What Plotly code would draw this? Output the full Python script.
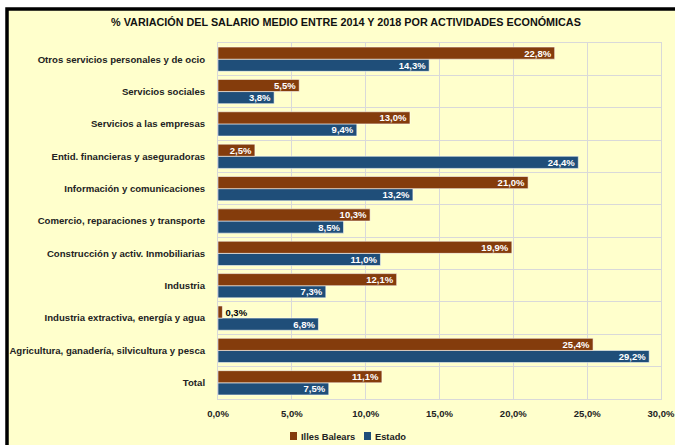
import plotly.graph_objects as go

categories = [
    "Total",
    "Agricultura, ganadería, silvicultura y pesca",
    "Industria extractiva, energía y agua",
    "Industria",
    "Construcción y activ. Inmobiliarias",
    "Comercio, reparaciones y transporte",
    "Información y comunicaciones",
    "Entid. financieras y aseguradoras",
    "Servicios a las empresas",
    "Servicios sociales",
    "Otros servicios personales y de ocio",
]
illes_balears = [11.1, 25.4, 0.3, 12.1, 19.9, 10.3, 21.0, 2.5, 13.0, 5.5, 22.8]
estado = [7.5, 29.2, 6.8, 7.3, 11.0, 8.5, 13.2, 24.4, 9.4, 3.8, 14.3]
x_ticks = [0, 5, 10, 15, 20, 25, 30]
x_tick_labels = ["0,0%", "5,0%", "10,0%", "15,0%", "20,0%", "25,0%", "30,0%"]
series_names = ["Illes Balears", "Estado"]

BROWN = "#843C0C"
BLUE = "#1F4E79"
FONT = "Liberation Sans, Arial, sans-serif"
TXT = "#222222"


def fmt(v):
    return f"{v:.1f}".replace(".", ",") + "%"


def positions(vals):
    return ["outside" if v < 1 else "inside" for v in vals]


fig = go.Figure()
fig.add_trace(go.Bar(
    y=categories, x=estado, orientation="h", name=series_names[1],
    marker=dict(color=BLUE, line=dict(color="rgba(255,255,255,0.7)", width=0.8)),
    text=[f"<b>{fmt(v)}</b>" for v in estado], textposition=positions(estado),
    insidetextanchor="end", constraintext="none", textangle=0,
    insidetextfont=dict(color="white", size=9.5, family=FONT),
    outsidetextfont=dict(color="black", size=9.5, family=FONT),
    showlegend=False,
))
fig.add_trace(go.Bar(
    y=categories, x=illes_balears, orientation="h", name=series_names[0],
    marker=dict(color=BROWN, line=dict(color="rgba(255,255,255,0.7)", width=0.8)),
    text=[f"<b>{fmt(v)}</b>" for v in illes_balears], textposition=positions(illes_balears),
    insidetextanchor="end", constraintext="none", textangle=0,
    insidetextfont=dict(color="white", size=9.5, family=FONT),
    outsidetextfont=dict(color="black", size=9.5, family=FONT),
    showlegend=False,
))

L, R, T, B = 218, 14, 43, 46
W, H = 675, 445
pw = W - L - R
ph = H - T - B


def px_x(p):
    return (p - L) / pw


def px_y(p):
    return (H - B - p) / ph


fig.update_layout(
    width=W, height=H,
    margin=dict(l=L, r=R, t=T, b=B, pad=0, autoexpand=False),
    paper_bgcolor="white",
    plot_bgcolor="rgba(0,0,0,0)",
    barmode="group", bargap=0.25, bargroupgap=0,
    font=dict(family=FONT, size=9.5, color=TXT),
    title=dict(
        text="<b>% VARIACIÓN DEL SALARIO MEDIO ENTRE 2014 Y 2018 POR ACTIVIDADES ECONÓMICAS</b>",
        x=346 / W, xref="container", xanchor="center",
        y=1 - 22 / H, yref="container", yanchor="middle",
        font=dict(family=FONT, size=10.8, color="#111111"),
    ),
    xaxis=dict(
        range=[0, 30], tickvals=x_ticks, ticktext=[f"<b>{t}</b>" for t in x_tick_labels],
        showgrid=True, gridcolor="#D9D9D9", gridwidth=1,
        showline=True, linecolor="#D9D9D9", mirror=True, zeroline=False,
        ticks="outside", ticklen=6, tickcolor="rgba(0,0,0,0)",
        ticklabeloverflow="allow",
        tickfont=dict(size=9.5, family=FONT, color=TXT),
        fixedrange=True, automargin=False,
    ),
    yaxis=dict(
        type="category", categoryorder="array", categoryarray=categories,
        tickson="boundaries", showgrid=True, gridcolor="#D9D9D9", gridwidth=1,
        showline=True, linecolor="#D9D9D9", mirror=True,
        ticks="", ticklabelstandoff=10, ticklabeloverflow="allow",
        tickvals=categories, ticktext=[f"<b>{c}</b>" for c in categories],
        tickfont=dict(size=9.6, family=FONT, color=TXT),
        fixedrange=True, automargin=False,
    ),
    showlegend=False,
)

# chart frame (light yellow area with black border), extends beyond the window
fig.add_shape(
    type="rect", xref="paper", yref="paper",
    x0=px_x(7), x1=px_x(W + 40), y0=px_y(H + 40), y1=px_y(9),
    fillcolor="#FFFFCC", line=dict(color="black", width=3.5), layer="below",
)

# legend (swatch + label), laid out like the original
legend_items = [(series_names[0], BROWN, 290), (series_names[1], BLUE, 364)]
for name, color, sx in legend_items:
    fig.add_shape(
        type="rect", xref="paper", yref="paper",
        x0=px_x(sx), x1=px_x(sx + 7), y0=px_y(440), y1=px_y(432),
        fillcolor=color, line=dict(width=0),
    )
    fig.add_annotation(
        xref="paper", yref="paper", x=px_x(sx + 9), y=px_y(436.5),
        xanchor="left", yanchor="middle", showarrow=False,
        text=f"<b>{name}</b>", font=dict(size=9.3, family=FONT, color=TXT),
    )

fig.write_html(
    "out.html",
    config={"displayModeBar": False},
    post_script="document.body.style.margin='0';document.body.style.overflow='hidden';",
)
